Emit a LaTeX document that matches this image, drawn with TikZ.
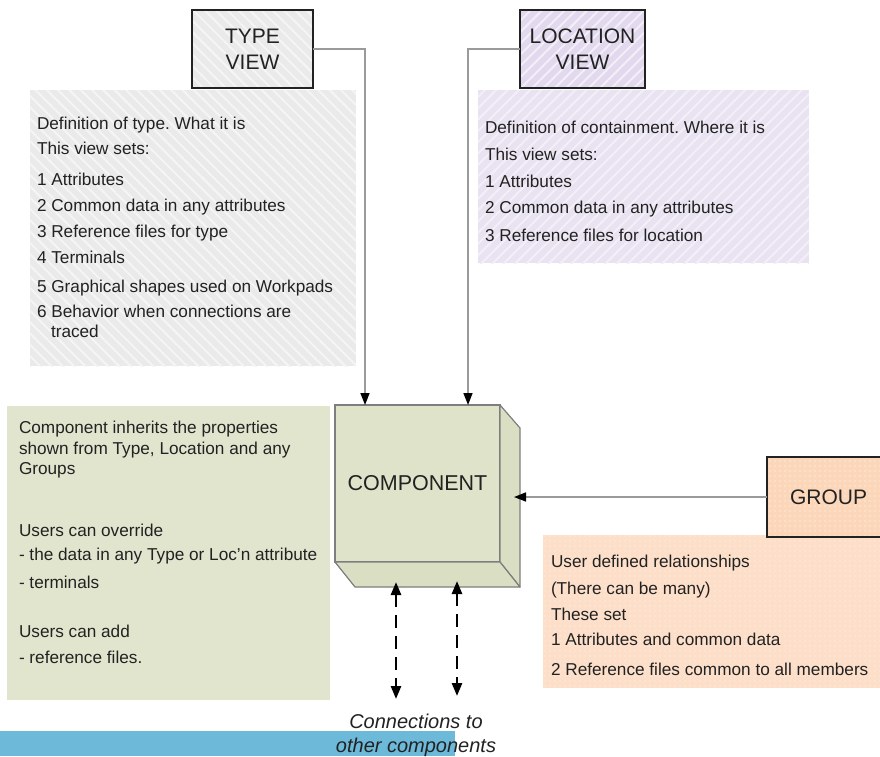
\documentclass[tikz,border=0pt]{standalone}
\usepackage{fontspec}
\setmainfont{Liberation Sans}
\frenchspacing
\usetikzlibrary{arrows.meta,patterns.meta,calc}

\definecolor{ink}{HTML}{222222}
\definecolor{typebg}{HTML}{EAEAEA}
\definecolor{typeln}{HTML}{F5F5F5}
\definecolor{locbg}{HTML}{E9E3F1}
\definecolor{locln}{HTML}{F3EFF8}
\definecolor{locbox}{HTML}{E2D9EE}
\definecolor{compbg}{HTML}{E1E5CE}
\definecolor{cubefront}{HTML}{DFE3C9}
\definecolor{cubeside}{HTML}{DADFC3}
\definecolor{cubeedge}{HTML}{7E7E7E}
\definecolor{grpbox}{HTML}{FCD6B8}
\definecolor{grpbg}{HTML}{FDDFC9}
\definecolor{grpdot}{HTML}{FEEADB}
\definecolor{barblue}{HTML}{6DB9D9}
\definecolor{connline}{HTML}{9A9A9A}

\tikzset{
  viewbox/.style={draw=ink, line width=2.4pt, inner sep=0, outer sep=0, align=center,
    font=\fontsize{21}{26}\selectfont},
  panel/.style={draw=none, inner sep=0, outer sep=0, anchor=north west},
  % fills and textures go first, so that the border is stroked on top of them
  typehatch/.style={preaction={fill=typebg}, preaction={pattern={Lines[angle=-45,distance=8pt,line width=2pt]}, pattern color=typeln}},
  lochatch/.style={preaction={fill=locbg}, preaction={pattern={Lines[angle=45,distance=8pt,line width=2pt]}, pattern color=locln}},
  lochatchbox/.style={preaction={fill=locbox}, preaction={pattern={Lines[angle=45,distance=8pt,line width=2pt]}, pattern color=locln}},
  grpdots/.style={preaction={fill=#1}, preaction={pattern={Dots[distance=5pt,radius=0.8pt]}, pattern color=grpdot}},
  txtline/.style={anchor=base west, inner sep=0, outer sep=0},
  cubeface/.style={draw=cubeedge, line width=1.2pt, fill=cubeside, line join=round},
  conn/.style={draw=connline, line width=1.6pt, -{Triangle[length=12pt,width=9pt,color=black]}},
  linkdash/.style={draw=black, line width=2.6pt, dash pattern=on 13pt off 8pt,
    {Triangle[length=13pt,width=10pt]}-{Triangle[length=13pt,width=10pt]}},
  captext/.style={anchor=base, inner sep=0, font=\itshape\fontsize{20}{24}\selectfont},
}

\begin{document}
\begin{tikzpicture}[x=1pt, y=-1pt, font=\fontsize{17.2}{20}\selectfont, text=ink]
\useasboundingbox (0,0) rectangle (880,756);

% background panels
\node[panel, typehatch, minimum width=326pt, minimum height=276pt] (typepanel) at (30,90) {};
\node[panel, lochatch, minimum width=331pt, minimum height=173pt] (locpanel) at (478,90) {};
\node[panel, fill=compbg, minimum width=323pt, minimum height=294pt] (comppanel) at (7,406) {};
\node[panel, grpdots=grpbg, minimum width=345pt, minimum height=153pt] (grppanel) at (543,535) {};

% bottom bar
\fill[barblue] (0,731) rectangle (455,756);

% view boxes
\node[viewbox, typehatch, minimum width=121pt, minimum height=78pt] (tv) at (252.5,49) {TYPE\\VIEW};
\node[viewbox, lochatchbox, minimum width=125pt, minimum height=78pt] (lv) at (582.5,49) {LOCATION\\VIEW};
\node[viewbox, grpdots=grpbox, minimum width=123pt, minimum height=80pt] (grp) at (828.5,497) {GROUP};

% component cube
\node[draw=cubeedge, line width=1.2pt, fill=cubefront, minimum width=165pt, minimum height=157pt,
  inner sep=0, outer sep=0, font=\fontsize{21.5}{24}\selectfont] (comp) at (417.5,483.5) {COMPONENT};
\draw[cubeface] (comp.north east) -- ++(20,23) -- ($(comp.south east)+(20,25)$) -- (comp.south east) -- cycle;
\draw[cubeface] (comp.south west) -- (comp.south east) -- ++(20,25) -- ($(comp.south west)+(20,25)$) -- cycle;

% inheritance connectors
\draw[conn] (tv.east) -| ($(comp.north west)+(30,0)$);
\draw[conn] (lv.west) -| ($(comp.north west)+(133,0)$);
\coordinate (sidein) at (514,497);
\draw[conn] (grp.west) -- (sidein);

% links to other components
\coordinate (l1a) at (396,582);
\coordinate (l1b) at (396,699);
\coordinate (l2a) at (457,581);
\coordinate (l2b) at (457,696);
\draw[linkdash] (l1a) -- (l1b);
\draw[linkdash] (l2a) -- (l2b);

% type view text
\foreach \yy/\txt [count=\i] in {129/Definition of type. What it is, 154/This view sets:,
  185/1 Attributes, 211/2 Common data in any attributes, 237/3 Reference files for type,
  263/4 Terminals, 292/5 Graphical shapes used on Workpads, 317/6 Behavior when connections are}
  \node[txtline] (tl\i) at (37,\yy) {\txt};
\node[txtline] (tl9) at (51,337) {traced};

% location view text
\foreach \yy/\txt [count=\i] in {133/Definition of containment. Where it is, 160/This view sets:,
  187/1 Attributes, 213/2 Common data in any attributes, 241/3 Reference files for location}
  \node[txtline] (ll\i) at (485,\yy) {\txt};

% component text
\foreach \yy/\txt [count=\i] in {433/Component inherits the properties,
  {454/shown from Type, Location and any}, 474/Groups, 536/Users can override,
  560/- the data in any Type or Loc’n attribute, 588/- terminals, 637/Users can add,
  663/- reference files.}
  \node[txtline] (cl\i) at (19,\yy) {\txt};

% group text
\foreach \yy/\txt [count=\i] in {567/User defined relationships, 594/(There can be many),
  620/These set, 645/1 Attributes and common data, 675/2 Reference files common to all members}
  \node[txtline] (gl\i) at (551,\yy) {\txt};

% caption of the links
\node[captext] (cap1) at (416,728) {Connections to};
\node[captext] (cap2) at (416,752) {other components};
\end{tikzpicture}
\end{document}
